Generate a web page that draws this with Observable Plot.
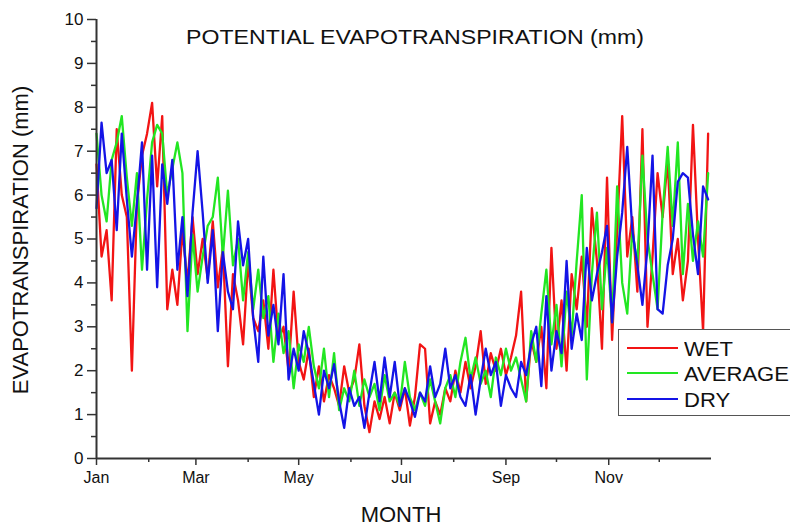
<!DOCTYPE html>
<html><head><meta charset="utf-8">
<script src="https://cdn.jsdelivr.net/npm/d3@7"></script>
<script src="https://cdn.jsdelivr.net/npm/@observablehq/plot@0.6"></script>
<style>
html,body{margin:0;padding:0;background:#fff;overflow:hidden;}
body{width:790px;height:527px;font-family:"Liberation Sans",Arial,sans-serif;color:#111;}
#wrap{position:relative;width:790px;height:527px;overflow:hidden;}
#chart{position:absolute;left:0;top:0;}
.lbl{position:absolute;white-space:nowrap;transform:translate(-50%,-50%);line-height:1;}
#title{transform:translate(-50%,-50%) scaleX(1.1);}
#ylab{transform:translate(-50%,-50%) rotate(-90deg);}
#legend{position:absolute;left:618px;top:329px;width:210px;height:87px;border:1.5px solid #555;background:#fff;box-sizing:border-box;}
.sw{position:absolute;left:8px;width:51px;height:0;border-top:2.5px solid;}
.lt{position:absolute;left:65px;font-size:21px;line-height:1;transform-origin:0 50%;transform:scaleX(1.05);}
</style>
</head><body>
<div id="wrap">
<div id="chart"></div>
<div class="lbl" id="title" style="left:415px;top:36px;font-size:21px;">POTENTIAL EVAPOTRANSPIRATION (mm)</div>
<div class="lbl" id="ylab" style="left:21px;top:240px;font-size:22px;">EVAPOTRANSPIRATION (mm)</div>
<div class="lbl" id="xlab" style="left:401px;top:515px;font-size:22px;">MONTH</div>
<div id="legend"></div>
</div>
<script>
// Series names and colours
const seriesNames = ["WET", "AVERAGE", "DRY"];
const seriesColors = ["#f21414", "#22e622", "#1414e6"];

// Sampling days (day of year, every third day)
const sampleDays = d3.range(0, 364, 3);

// Potential evapotranspiration (mm)
const wet = [6.7,4.6,5.2,3.6,7.5,6.0,5.5,2.0,5.8,6.9,7.4,8.1,6.2,7.8,3.4,4.3,3.5,5.2,4.0,5.5,
  4.2,5.0,4.1,5.4,3.9,4.8,2.1,4.2,3.6,2.6,4.5,3.2,2.9,3.6,2.5,4.3,2.7,3.0,2.0,3.8,
  2.2,1.8,2.5,1.4,2.1,1.3,1.9,1.6,1.2,2.1,1.5,1.8,2.6,1.2,0.6,1.3,0.9,1.4,0.8,1.5,
  1.1,1.6,0.75,1.4,2.6,2.5,0.8,1.3,1.0,1.6,1.3,2.0,1.5,2.2,1.6,2.1,2.9,1.7,2.4,2.0,
  2.5,1.9,2.3,2.8,3.8,1.3,2.7,2.2,3.0,1.6,4.8,2.5,3.6,2.0,4.2,3.4,4.6,3.0,5.7,4.5,
  2.5,6.4,2.7,5.2,7.8,4.6,5.5,3.8,7.5,3.0,4.6,6.5,5.5,6.8,4.2,5.0,3.6,4.5,7.6,5.0,
  2.9,7.4];
const average = [7.4,6.0,5.4,6.8,7.2,7.8,6.4,5.3,6.5,4.3,5.9,7.2,7.6,7.4,6.0,6.6,7.2,6.5,2.9,5.1,
  3.8,4.6,5.3,5.5,6.4,4.6,6.1,4.4,5.0,3.6,4.7,3.4,4.3,3.2,3.7,2.2,3.3,2.4,2.9,1.6,
  2.6,2.2,3.0,2.1,1.6,2.5,1.4,2.4,1.1,1.6,1.3,2.0,1.2,1.8,1.4,1.7,1.1,1.9,1.3,1.5,
  1.2,2.2,1.4,1.1,1.5,1.2,1.8,1.3,0.8,1.6,1.9,1.4,2.2,2.75,1.8,2.3,1.7,2.0,1.4,2.3,
  1.9,2.5,2.0,2.3,1.8,1.3,2.9,2.2,3.3,4.3,2.6,3.5,2.1,3.8,2.8,4.5,6.0,1.8,4.2,5.6,
  3.4,4.8,3.1,6.2,4.0,3.3,5.2,4.4,6.9,5.0,4.2,3.4,5.6,7.1,5.3,7.2,4.2,5.8,4.5,5.4,
  4.6,6.5];
const dry = [5.7,7.65,6.5,6.8,5.2,7.4,5.9,4.6,5.8,7.2,4.3,6.9,3.9,6.7,5.8,6.8,4.3,5.5,3.7,5.6,
  7.0,5.6,4.0,5.2,2.9,4.7,3.8,3.4,5.4,4.4,5.0,3.2,2.2,4.6,2.8,3.5,2.6,4.2,1.8,2.5,
  2.0,2.9,2.4,1.7,1.0,2.0,1.6,2.15,1.3,0.7,1.6,1.2,1.4,0.7,1.5,2.2,1.3,2.3,1.4,2.2,
  1.2,1.6,1.3,0.95,1.5,1.3,2.1,1.4,1.7,2.5,1.6,1.9,1.4,1.2,1.9,1.0,1.8,2.5,1.9,2.2,
  1.2,1.9,1.6,1.4,2.2,1.9,2.6,3.0,1.65,3.7,2.0,2.9,2.4,4.5,2.5,3.3,2.7,4.8,3.6,4.2,
  4.7,5.3,3.1,4.6,5.6,7.1,5.2,4.4,3.5,4.8,6.9,3.4,3.3,4.4,5.0,6.3,6.5,6.4,5.1,4.2,
  6.2,5.9];

// Axis ticks
const yTicks = [0,1,2,3,4,5,6,7,8,9,10];
const yMinorTicks = [0.5,1.5,2.5,3.5,4.5,5.5,6.5,7.5,8.5,9.5];
const monthLabels = ["Jan","Mar","May","Jul","Sep","Nov"];
const monthLabelDays = [0,59,120,181,243,304];
const monthMinorDays = [31,90,151,212,273,334];

const seriesValues = [wet, average, dry];
const rows = seriesNames.flatMap((name, k) =>
  seriesValues[k].map((v, i) => ({series: name, day: sampleDays[i], value: v})));

const axisColor = "#333";
const chart = Plot.plot({
  width: 790, height: 527,
  marginLeft: 96, marginRight: 79, marginTop: 19, marginBottom: 69,
  x: {domain: [0, 365]},
  y: {domain: [0, 10]},
  color: {domain: seriesNames, range: seriesColors},
  style: {fontFamily: "'Liberation Sans', Arial, sans-serif", fontSize: "16px", color: "#111", background: "transparent"},
  marks: [
    Plot.line(rows, {x: "day", y: "value", z: "series", stroke: "series", strokeWidth: 2.3, strokeLinejoin: "round"}),
    Plot.axisY({ticks: yTicks, tickSize: 9, tickPadding: 4, label: null, stroke: axisColor, strokeWidth: 1.5, fontSize: 17}),
    Plot.axisY({ticks: yMinorTicks, tickSize: 5, tickFormat: () => "", label: null, stroke: axisColor, strokeWidth: 1.5}),
    Plot.axisX({ticks: monthLabelDays, tickSize: 7, tickPadding: 6, label: null, stroke: axisColor, strokeWidth: 1.5, fontSize: 16,
      tickFormat: d => monthLabels[monthLabelDays.indexOf(d)]}),
    Plot.axisX({ticks: monthMinorDays, tickSize: 4, tickFormat: () => "", label: null, stroke: axisColor, strokeWidth: 1.5}),
    Plot.ruleX([0], {stroke: axisColor, strokeWidth: 2}),
    Plot.ruleY([0], {stroke: axisColor, strokeWidth: 2})
  ]
});
document.getElementById("chart").appendChild(chart);

// Legend
const legend = document.getElementById("legend");
const legendTops = [18, 43, 69];
seriesNames.forEach((name, k) => {
  const sw = document.createElement("div");
  sw.className = "sw";
  sw.style.top = (legendTops[k] - 1) + "px";
  sw.style.borderTopColor = seriesColors[k];
  legend.appendChild(sw);
  const t = document.createElement("div");
  t.className = "lt";
  t.style.top = (legendTops[k] - 10) + "px";
  t.textContent = name;
  legend.appendChild(t);
});
</script>
</body></html>
